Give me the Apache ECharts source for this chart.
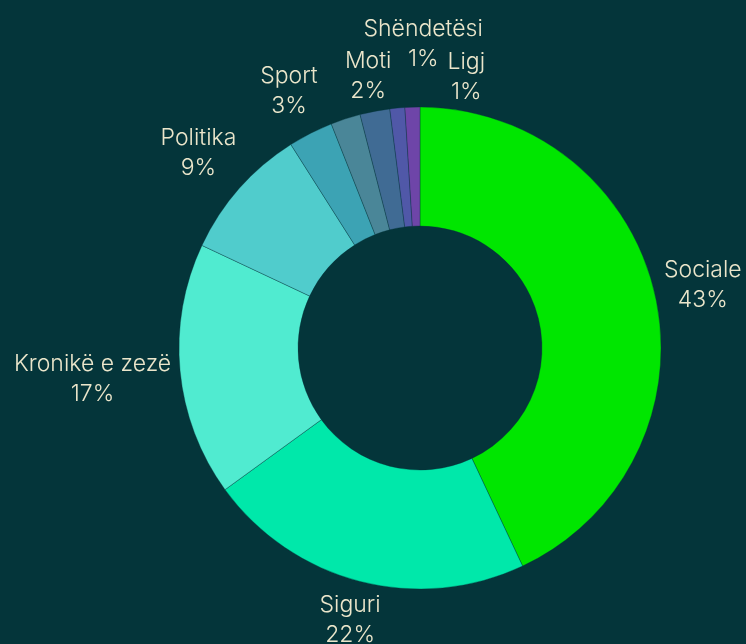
<!DOCTYPE html>
<html>
<head>
<meta charset="utf-8">
<script src="https://cdn.jsdelivr.net/npm/echarts@6/dist/echarts.min.js"></script>
<style>
  html, body { margin: 0; padding: 0; background: #04353a; }
  #chart { width: 746px; height: 644px; }
</style>
</head>
<body>
<div id="chart"></div>
<script>
// kategoritë dhe përqindjet
var names = ["Sociale", "Siguri", "Kronikë e zezë", "Politika", "Sport", "Ekonomi", "Moti", "Shëndetësi", "Ligj"];
var values = [43, 22, 17, 9, 3, 2, 2, 1, 1];
var colors = ["#00e600", "#00e8aa", "#50ebd0", "#50cccc", "#3ca3b4", "#4a8698", "#406b94", "#5058a8", "#6e45a8"];
var hiddenLabels = ["Ekonomi"];

// qendra dhe rrezet e unazës
var CX = 420, CY = 348;
var R0 = 122, R1 = 241;
var GAP = 9;
// shtyrje e etiketave që mbivendosen: [kënd në gradë, largësi shtesë]
var labelNudge = {
  "Moti": [0, -4],
  "Sport": [0, 5],
  "Shëndetësi": [6, 24],
  "Ligj": [11.5, -6]
};

var myChart = echarts.init(document.getElementById("chart"));

var seriesData = names.map(function (n, i) {
  var item = { name: n, value: values[i], itemStyle: { color: colors[i] } };
  if (hiddenLabels.indexOf(n) >= 0) {
    item.label = { show: false };
  }
  return item;
});

var option = {
  backgroundColor: "#04353a",
  animation: false,
  series: [
    {
      type: "pie",
      center: [CX, CY],
      radius: [R0, R1],
      startAngle: 90,
      clockwise: true,
      avoidLabelOverlap: false,
      data: seriesData,
      itemStyle: {
        borderColor: "rgba(4,53,58,0.35)",
        borderWidth: 1
      },
      label: {
        show: true,
        position: "outside",
        color: "#ebe6cb",
        fontFamily: "Inter",
        fontWeight: 300,
        fontSize: 23,
        lineHeight: 30,
        formatter: function (p) {
          return p.name + "\n" + Math.round(p.percent) + "%";
        }
      },
      labelLine: {
        show: true,
        length: 0,
        length2: 0,
        lineStyle: { opacity: 0 }
      },
      labelLayout: function (p) {
        var pts = p.labelLinePoints;
        if (!pts) return {};
        var ux = pts[0][0] - CX, uy = pts[0][1] - CY;
        var r = Math.sqrt(ux * ux + uy * uy);
        var ang = Math.atan2(ux, -uy);
        var nudge = labelNudge[names[p.dataIndex]] || [0, 0];
        ang += nudge[0] * Math.PI / 180;
        var sx = Math.sin(ang), sy = -Math.cos(ang);
        var w = p.labelRect.width, h = p.labelRect.height;
        var ext = Math.min(w / 2 / Math.max(Math.abs(sx), 1e-6), h / 2 / Math.max(Math.abs(sy), 1e-6));
        var d = r + GAP + ext + nudge[1];
        return {
          x: CX + sx * d,
          y: CY + sy * d,
          align: "center",
          verticalAlign: "middle"
        };
      }
    }
  ]
};

myChart.setOption(option);
</script>
</body>
</html>
